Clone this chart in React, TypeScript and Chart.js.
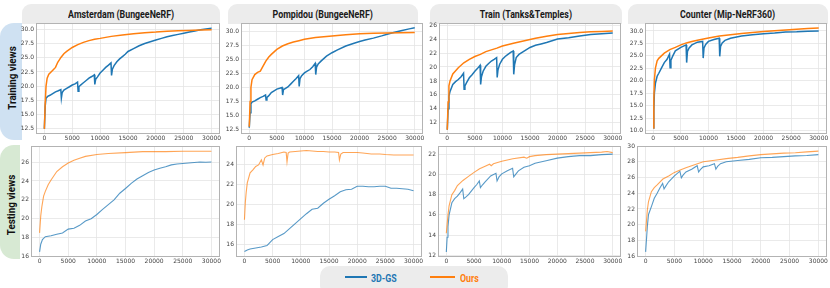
import React, { useEffect, useRef } from 'react';
import { Chart, registerables } from 'chart.js';

Chart.register(...registerables);

type Pt = [number, number];

// ---------------- data ----------------
const iterTicks = [0, 5000, 10000, 15000, 20000, 25000, 30000];
const seriesLabels = ['3D-GS', 'Ours'];
const columnTitles = ['Amsterdam (BungeeNeRF)', 'Pompidou (BungeeNeRF)', 'Train (Tanks&Temples)', 'Counter (Mip-NeRF360)'];
const rowTitles = ['Training views', 'Testing views'];

const amsterdamTrain3DGS: Pt[] = [[0,12.5],[150,16.5],[300,17.9],[600,18.2],[1000,18.4],[1500,18.7],[2000,19.0],[2500,19.2],[2950,19.4],[3050,17.9],[3200,18.9],[3500,19.3],[4000,19.6],[4500,19.9],[5000,20.2],[5500,20.4],[5950,20.7],[6050,19.1],[6200,19.9],[6500,20.2],[7000,20.6],[7500,21.0],[8000,21.4],[8500,21.7],[8950,22.0],[9050,20.3],[9200,21.2],[9500,21.6],[10000,22.3],[10500,22.8],[11000,23.3],[11500,23.7],[11950,24.1],[12050,21.9],[12200,23.0],[12500,23.6],[13000,24.3],[13500,24.8],[14000,25.2],[14500,25.6],[15000,26.1],[16000,26.6],[17000,27.1],[18000,27.5],[19000,27.8],[20000,28.1],[21000,28.4],[22000,28.7],[23000,28.9],[24000,29.1],[25000,29.3],[26000,29.5],[27000,29.7],[28000,29.9],[29000,30.05],[30000,30.2]];
const amsterdamTrainOurs: Pt[] = [[0,12.5],[150,17.0],[300,20.0],[500,21.4],[800,22.1],[1200,22.5],[1600,22.9],[2000,23.3],[2400,24.2],[3000,25.1],[3500,25.7],[4000,26.1],[5000,26.8],[6000,27.3],[7000,27.7],[8000,28.0],[9000,28.25],[10000,28.4],[12000,28.75],[14000,29.0],[16000,29.2],[18000,29.4],[20000,29.5],[22000,29.65],[24000,29.75],[26000,29.8],[28000,29.85],[30000,29.9]];
const amsterdamTest3DGS: Pt[] = [[0,16.5],[200,17.3],[500,17.8],[1000,18.1],[2000,18.2],[3000,18.35],[4000,18.5],[5000,18.9],[6000,19.0],[7000,19.3],[8000,19.75],[9000,20.0],[10000,20.45],[11000,21.0],[12000,21.5],[13000,22.0],[14000,22.7],[15000,23.2],[16000,23.75],[17000,24.2],[18000,24.55],[19000,24.9],[20000,25.15],[21000,25.35],[22000,25.5],[23000,25.7],[24000,25.8],[25000,25.85],[26000,25.9],[27000,25.95],[28000,26.0],[29000,25.98],[30000,26.0]];
const amsterdamTestOurs: Pt[] = [[0,18.5],[200,20.3],[400,21.3],[700,22.4],[1000,22.9],[1500,23.6],[2000,24.1],[3000,25.0],[4000,25.5],[5000,25.9],[6000,26.2],[7000,26.4],[8000,26.6],[10000,26.8],[12000,26.9],[15000,27.0],[18000,27.1],[20000,27.1],[22000,27.1],[25000,27.15],[28000,27.15],[30000,27.15]];

const pompidouTrain3DGS: Pt[] = [[0,12.8],[150,15.5],[300,17.1],[500,17.4],[1000,17.6],[1500,17.9],[2000,18.2],[2500,18.4],[2950,18.65],[3050,17.75],[3200,18.2],[3500,18.5],[4000,19.1],[4500,19.4],[5000,19.7],[5500,19.85],[5950,20.0],[6050,18.65],[6200,19.6],[6500,19.8],[7000,20.1],[7500,20.6],[8000,21.1],[8500,21.6],[8950,22.1],[9050,20.2],[9200,21.6],[9500,22.1],[10000,22.6],[10500,22.9],[11000,23.2],[11500,23.7],[11950,24.3],[12050,22.3],[12200,23.6],[12500,24.2],[13000,24.7],[14000,25.6],[15000,26.2],[16000,26.7],[17500,27.4],[19000,27.9],[20000,28.2],[21000,28.45],[22500,28.8],[24000,29.2],[25000,29.5],[26000,29.75],[27500,30.1],[29000,30.45],[30000,30.65]];
const pompidouTrainOurs: Pt[] = [[0,13.0],[150,17.5],[300,20.0],[500,21.4],[1000,22.3],[1500,22.7],[2000,22.9],[2500,23.8],[3000,24.7],[3500,25.4],[4000,25.9],[5000,26.8],[6000,27.4],[7000,27.8],[8000,28.1],[9000,28.35],[10000,28.6],[12000,28.9],[15000,29.2],[17500,29.4],[20000,29.6],[22500,29.65],[25000,29.7],[27500,29.75],[30000,29.8]];
const pompidouTest3DGS: Pt[] = [[0,15.3],[500,15.45],[1000,15.55],[2000,15.65],[3000,15.75],[4000,15.9],[4500,16.2],[5000,16.5],[6000,16.8],[7000,17.1],[8000,17.6],[9000,18.1],[10000,18.6],[11000,19.1],[12000,19.55],[13000,19.65],[14000,20.15],[15000,20.55],[16000,20.9],[17000,21.3],[18000,21.5],[19000,21.55],[20000,21.85],[21000,21.85],[22000,21.8],[23000,21.8],[24000,21.85],[25000,21.85],[26000,21.65],[27000,21.65],[28000,21.6],[29000,21.55],[30000,21.4]];
const pompidouTestOurs: Pt[] = [[0,18.5],[150,20.2],[300,21.2],[500,22.2],[1000,23.2],[1500,23.5],[2000,23.85],[2500,24.0],[3000,24.5],[3300,24.0],[3600,24.7],[4000,24.9],[5000,25.05],[6000,25.15],[7000,25.3],[7400,25.25],[7550,24.3],[7750,25.2],[8000,25.3],[9000,25.35],[10000,25.4],[11000,25.45],[12000,25.4],[13000,25.35],[14000,25.35],[15000,25.3],[16000,25.3],[16700,25.25],[16850,24.5],[17100,25.1],[17500,25.25],[18500,25.25],[20000,25.25],[21000,25.2],[22500,25.1],[24000,25.1],[25000,25.05],[26500,25.0],[27500,25.0],[29000,25.0],[30000,25.0]];

const trainTrain3DGS: Pt[] = [[0,11.0],[150,14.0],[300,15.8],[500,16.5],[1000,17.5],[1500,17.9],[2000,18.2],[2500,18.6],[2950,19.1],[3050,16.8],[3200,17.3],[3500,17.75],[4000,18.45],[4500,18.9],[5000,19.4],[5500,19.8],[5950,20.25],[6050,17.5],[6200,18.6],[6500,19.4],[7000,20.1],[7500,20.5],[8000,20.85],[8500,21.1],[8950,21.35],[9050,18.5],[9200,19.6],[9500,20.4],[10000,21.1],[10500,21.5],[11000,21.8],[11500,22.1],[11950,22.3],[12050,18.95],[12200,20.3],[12500,21.35],[13000,21.8],[14000,22.3],[15000,22.8],[16000,23.1],[17000,23.3],[18000,23.5],[19000,23.75],[20000,24.0],[22000,24.2],[24000,24.45],[26000,24.65],[28000,24.75],[30000,24.85]];
const trainTrainOurs: Pt[] = [[0,11.0],[150,15.0],[300,17.3],[500,18.0],[1000,19.0],[2000,19.9],[3000,20.6],[4000,21.1],[5000,21.5],[6000,21.8],[7000,22.2],[8000,22.45],[9000,22.7],[10000,23.0],[12000,23.4],[14000,23.75],[16000,24.1],[18000,24.4],[20000,24.65],[22000,24.8],[24000,24.95],[26000,25.05],[28000,25.1],[30000,25.15]];
const trainTest3DGS: Pt[] = [[0,12.35],[150,13.8],[300,14.85],[500,16.0],[1000,17.2],[1500,17.6],[2000,17.85],[2500,18.2],[2950,18.55],[3150,17.6],[3500,17.75],[4000,18.0],[5000,18.7],[5500,19.0],[5950,19.35],[6150,18.7],[6500,18.95],[7000,19.25],[8000,19.85],[8950,20.1],[9150,19.35],[9500,19.75],[10000,20.05],[11000,20.35],[11950,20.6],[12150,19.75],[12500,20.0],[13000,20.35],[14000,20.7],[15000,20.85],[16000,21.1],[18000,21.35],[20000,21.6],[22000,21.75],[24000,21.85],[26000,21.85],[28000,21.95],[30000,22.0]];
const trainTestOurs: Pt[] = [[0,14.2],[300,16.0],[500,16.9],[1000,18.0],[1500,18.4],[2000,18.9],[3000,19.4],[4000,19.8],[5000,20.2],[6000,20.55],[7000,20.8],[7800,21.0],[8100,20.85],[8500,21.05],[10000,21.3],[12000,21.55],[14000,21.7],[14500,21.6],[15000,21.75],[16000,21.85],[18000,21.95],[20000,22.0],[22000,22.05],[24000,22.1],[26000,22.15],[28000,22.2],[29000,22.25],[30000,22.15]];

const counterTrain3DGS: Pt[] = [[0,10.5],[100,14.0],[200,17.5],[400,19.55],[700,20.9],[1000,21.5],[1500,22.6],[2000,23.65],[2500,24.3],[2950,25.35],[3050,22.6],[3200,24.1],[3500,24.9],[4000,26.0],[5000,26.7],[5950,27.2],[6050,23.65],[6200,25.9],[6500,26.6],[7000,27.2],[8000,27.75],[8950,27.9],[9050,24.55],[9200,26.6],[9500,27.3],[10000,27.9],[11000,28.3],[11950,28.55],[12050,24.9],[12200,26.9],[12500,27.6],[13000,28.1],[14000,28.55],[16000,29.0],[18000,29.25],[20000,29.45],[22000,29.6],[24000,29.8],[26000,29.85],[28000,29.95],[30000,30.0]];
const counterTrainOurs: Pt[] = [[0,10.5],[100,16.0],[200,20.2],[400,22.6],[700,24.0],[1000,24.5],[2000,25.55],[3000,26.25],[4000,26.7],[5000,27.2],[6000,27.6],[7000,27.9],[8000,28.15],[10000,28.6],[12000,29.0],[14000,29.25],[16000,29.5],[18000,29.7],[20000,29.9],[22000,30.05],[24000,30.2],[26000,30.35],[28000,30.5],[30000,30.6]];
const counterTest3DGS: Pt[] = [[0,16.55],[300,19.8],[500,21.3],[1000,22.3],[1500,23.35],[2000,24.0],[2500,24.7],[2950,25.25],[3200,24.55],[3500,24.9],[4000,25.45],[5000,26.2],[5950,26.8],[6200,25.95],[6500,26.3],[7000,26.7],[8000,27.05],[8950,27.5],[9200,26.7],[9500,27.0],[10000,27.35],[11000,27.5],[11950,27.75],[12200,27.05],[12500,27.4],[13000,27.75],[14000,28.0],[16000,28.15],[18000,28.3],[20000,28.5],[22000,28.55],[24000,28.65],[26000,28.75],[28000,28.8],[30000,28.9]];
const counterTestOurs: Pt[] = [[0,19.15],[300,21.9],[500,22.95],[1000,24.2],[1500,24.7],[2000,25.05],[3000,25.8],[4000,26.2],[5000,26.65],[6000,26.95],[7000,27.25],[8000,27.5],[9000,27.75],[10000,28.0],[12000,28.2],[14000,28.4],[16000,28.55],[18000,28.75],[20000,28.9],[22000,29.0],[24000,29.1],[26000,29.15],[28000,29.25],[30000,29.35]];

const yTicksHalf12 = [12.5, 15, 17.5, 20, 22.5, 25, 27.5, 30];
const yTicksHalf10 = [10, 12.5, 15, 17.5, 20, 22.5, 25, 27.5, 30];
const yTicks16to26 = [16, 18, 20, 22, 24, 26];
const yTicks16to24 = [16, 18, 20, 22, 24];
const yTicks12to26 = [12, 14, 16, 18, 20, 22, 24, 26];
const yTicks12to22 = [12, 14, 16, 18, 20, 22];
const yTicks16to30 = [16, 18, 20, 22, 24, 26, 28, 30];

// ---------------- layout / style ----------------
const BLUE = '#1f77b4';
const ORANGE = '#ff7f0e';
const Y_AXIS_W = 30;
const X_AXIS_H = 12;
const PAD_T = 6;
const PAD_R = 14;

interface PanelSpec {
  gs: Pt[];
  ours: Pt[];
  yTicks: number[];
  yMin: number;
  yMax: number;
  decimals: number;
  frame: [number, number, number, number];
  row: number;
}

const panels: PanelSpec[] = [
  { gs: amsterdamTrain3DGS, ours: amsterdamTrainOurs, yTicks: yTicksHalf12, yMin: 11.6, yMax: 31.1, decimals: 1, frame: [36, 23, 220, 134], row: 0 },
  { gs: pompidouTrain3DGS, ours: pompidouTrainOurs, yTicks: yTicksHalf12, yMin: 11.7, yMax: 31.5, decimals: 1, frame: [241, 23, 423, 134], row: 0 },
  { gs: trainTrain3DGS, ours: trainTrainOurs, yTicks: yTicks12to26, yMin: 10.4, yMax: 26.3, decimals: 0, frame: [439, 23, 621, 134], row: 0 },
  { gs: counterTrain3DGS, ours: counterTrainOurs, yTicks: yTicksHalf10, yMin: 9.3, yMax: 31.6, decimals: 1, frame: [645, 23, 827, 134], row: 0 },
  { gs: amsterdamTest3DGS, ours: amsterdamTestOurs, yTicks: yTicks16to26, yMin: 15.95, yMax: 27.7, decimals: 0, frame: [31, 146, 220, 257], row: 1 },
  { gs: pompidouTest3DGS, ours: pompidouTestOurs, yTicks: yTicks16to24, yMin: 14.75, yMax: 25.9, decimals: 0, frame: [236, 146, 422, 257], row: 1 },
  { gs: trainTest3DGS, ours: trainTestOurs, yTicks: yTicks12to22, yMin: 11.85, yMax: 22.8, decimals: 0, frame: [438, 146, 621, 257], row: 1 },
  { gs: counterTest3DGS, ours: counterTestOurs, yTicks: yTicks16to30, yMin: 15.9, yMax: 30.0, decimals: 0, frame: [637, 146, 827, 257], row: 1 },
];

const titleBoxes: [number, number][] = [[22, 220], [228, 418], [430, 622], [628, 828]];

const framePlugin = {
  id: 'frameRect',
  afterDatasetsDraw(chart: any) {
    const { ctx, chartArea: a } = chart;
    ctx.save();
    ctx.strokeStyle = '#b3b3b3';
    ctx.lineWidth = 1;
    const l = Math.round(a.left) + 0.5;
    const t = Math.round(a.top) + 0.5;
    const r = Math.round(a.right) - 0.5;
    const b = Math.round(a.bottom) - 0.5;
    ctx.strokeRect(l, t, r - l, b - t);
    ctx.restore();
  },
};

function Panel({ p }: { p: PanelSpec }) {
  const ref = useRef<HTMLCanvasElement>(null);
  const [x0, y0, x1, y1] = p.frame;
  const W = Y_AXIS_W + (x1 - x0) + PAD_R;
  const H = PAD_T + (y1 - y0) + X_AXIS_H;
  useEffect(() => {
    const test = p.row === 1;
    const chart = new Chart(ref.current as HTMLCanvasElement, {
      type: 'line',
      data: {
        datasets: [
          {
            label: seriesLabels[0],
            data: p.gs.map(([x, y]) => ({ x, y })),
            borderColor: test ? 'rgba(31,119,180,0.75)' : BLUE,
            borderWidth: test ? 1.1 : 1.5,
            pointRadius: 0,
            tension: 0,
            fill: false,
            order: 1,
          },
          {
            label: seriesLabels[1],
            data: p.ours.map(([x, y]) => ({ x, y })),
            borderColor: test ? 'rgba(255,127,14,0.7)' : ORANGE,
            borderWidth: test ? 1.1 : 1.5,
            pointRadius: 0,
            tension: 0,
            fill: false,
            order: 0,
          },
        ],
      },
      options: {
        animation: false,
        responsive: false,
        devicePixelRatio: 1,
        layout: { padding: { top: PAD_T, right: PAD_R, left: 0, bottom: 0 } },
        plugins: { legend: { display: false }, tooltip: { enabled: false } },
        events: [],
        scales: {
          x: {
            type: 'linear',
            min: -1500,
            max: 31500,
            afterBuildTicks: (s: any) => {
              s.ticks = iterTicks.map((v) => ({ value: v }));
            },
            afterFit: (s: any) => {
              s.height = X_AXIS_H;
              s.paddingLeft = 0;
              s.paddingRight = 0;
            },
            ticks: {
              autoSkip: false,
              maxRotation: 0,
              padding: 1,
              color: '#444',
              font: { family: 'DejaVu Sans', size: 6 },
              callback: (v: any) => String(v),
            },
            grid: { color: '#e4e4e4', lineWidth: 0.8, drawTicks: false },
            border: { display: false },
          },
          y: {
            type: 'linear',
            min: p.yMin,
            max: p.yMax,
            afterBuildTicks: (s: any) => {
              s.ticks = p.yTicks.map((v) => ({ value: v }));
            },
            afterFit: (s: any) => {
              s.width = Y_AXIS_W;
            },
            ticks: {
              autoSkip: false,
              padding: 2,
              color: '#444',
              font: { family: 'DejaVu Sans', size: 6 },
              callback: (v: any) => Number(v).toFixed(p.decimals),
            },
            grid: { color: '#e4e4e4', lineWidth: 0.8, drawTicks: false },
            border: { display: false },
          },
        },
      },
      plugins: [framePlugin],
    } as any);
    return () => chart.destroy();
  }, []);
  return (
    <canvas
      ref={ref}
      width={W}
      height={H}
      style={{ position: 'absolute', left: x0 - Y_AXIS_W, top: y0 - PAD_T, width: W, height: H }}
    />
  );
}

const labelFont: React.CSSProperties = {
  fontFamily: 'Roboto, "DejaVu Sans", sans-serif',
  fontWeight: 700,
  whiteSpace: 'nowrap',
  display: 'inline-block',
};

export default function App() {
  return (
    <div style={{ position: 'fixed', left: 0, top: 0, width: 830, height: 288, overflow: 'hidden', background: '#fff' }}>
      {titleBoxes.map(([a, b], i) => (
        <div
          key={'tb' + i}
          style={{
            position: 'absolute', left: a, top: 4, width: b - a, height: 20,
            background: '#ececec', borderRadius: '9px 9px 0 0',
            display: 'flex', alignItems: 'center', justifyContent: 'center',
          }}
        >
          <span style={{ ...labelFont, fontSize: 10.5, color: '#1a1a1a', transform: 'scaleX(0.84)' }}>{columnTitles[i]}</span>
        </div>
      ))}
      <div style={{ position: 'absolute', left: 0, top: 23, width: 22, height: 117, background: '#cfe1f2', borderRadius: '14px 0 0 14px' }} />
      <div style={{ position: 'absolute', left: 0, top: 145, width: 20, height: 114, background: '#d7e9d3', borderRadius: '14px 0 0 14px' }} />
      {rowTitles.map((t, i) => (
        <div
          key={'rt' + i}
          style={{
            position: 'absolute', left: i === 0 ? 11 : 10, top: i === 0 ? 78 : 205,
            transform: 'translate(-50%, -50%) rotate(-90deg)',
          }}
        >
          <span style={{ ...labelFont, fontSize: 11.5, color: '#111', transform: 'scaleX(0.85)' }}>{t}</span>
        </div>
      ))}
      {panels.map((p, i) => (
        <Panel key={'p' + i} p={p} />
      ))}
      <div style={{ position: 'absolute', left: 320, top: 266, width: 188, height: 30, background: '#ececec', borderRadius: 10 }} />
      <div style={{ position: 'absolute', left: 345, top: 276, width: 22, height: 2, background: BLUE }} />
      <div style={{ position: 'absolute', left: 430, top: 276, width: 25, height: 2, background: ORANGE }} />
      <div style={{ position: 'absolute', left: 371, top: 277, transform: 'translateY(-50%)', transformOrigin: 'left center' }}>
        <span style={{ ...labelFont, fontSize: 10.5, color: BLUE, transform: 'scaleX(0.84)', transformOrigin: 'left center' }}>{seriesLabels[0]}</span>
      </div>
      <div style={{ position: 'absolute', left: 460, top: 277, transform: 'translateY(-50%)' }}>
        <span style={{ ...labelFont, fontSize: 10.5, color: ORANGE, transform: 'scaleX(0.84)', transformOrigin: 'left center' }}>{seriesLabels[1]}</span>
      </div>
    </div>
  );
}
